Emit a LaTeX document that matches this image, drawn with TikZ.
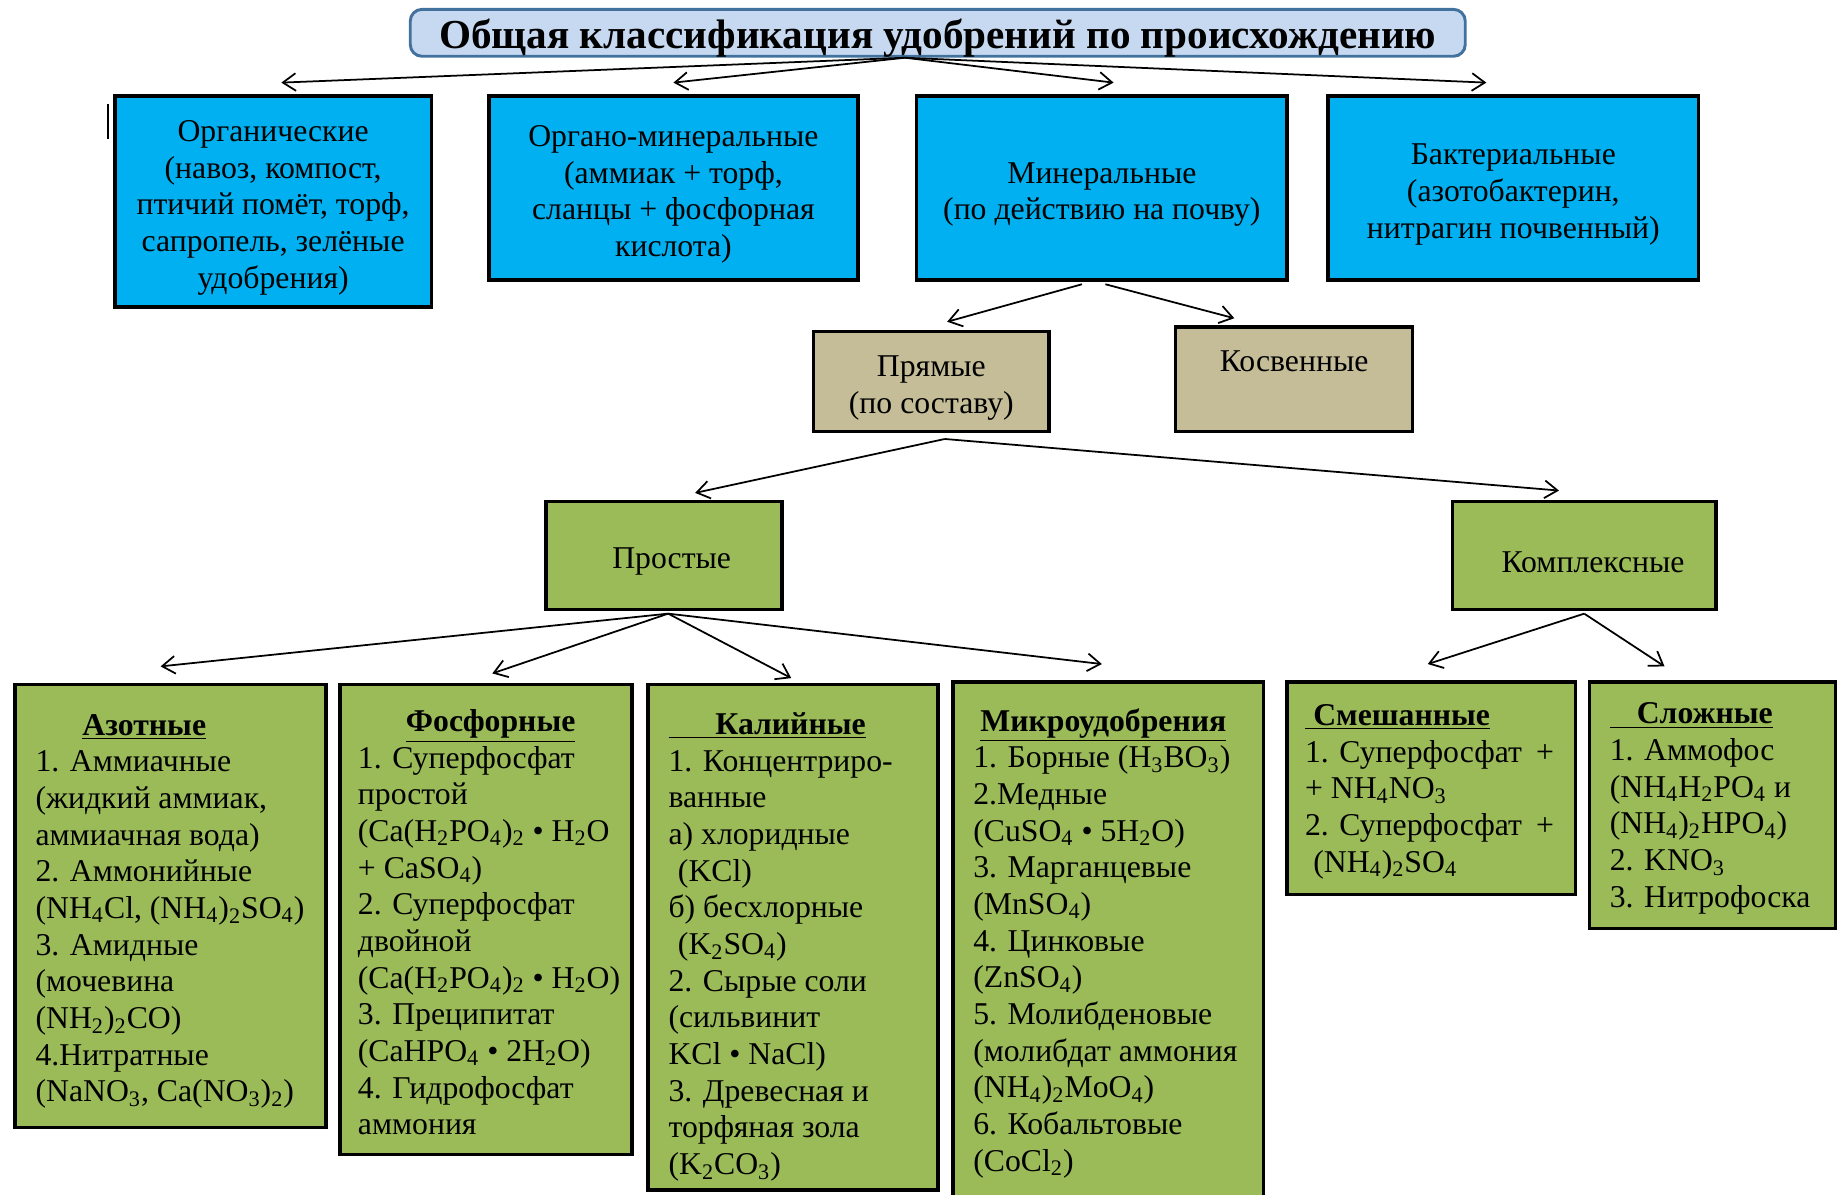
\documentclass[tikz,border=0pt]{standalone}
\usepackage{fontspec}
\setmainfont{Liberation Serif}
\usetikzlibrary{arrows.meta}
\definecolor{cyanbox}{RGB}{0,176,240}
\definecolor{tanbox}{RGB}{196,189,151}
\definecolor{greenbox}{RGB}{155,187,89}
\definecolor{titlefill}{RGB}{198,217,241}
\definecolor{titleline}{RGB}{65,113,156}
\newcommand{\bodyfont}{\fontsize{15.4}{17.8}\selectfont}
\newcommand{\sbs}[1]{\textsubscript{#1}}
\newcommand{\hdr}[2]{\hspace*{#1}\underline{\textbf{#2}}}
\newcommand{\hdru}[2]{\underline{\hspace*{#1}\textbf{#2}}}
\newcommand{\tp}{\rule{0pt}{5.7mm}}

\begin{document}
\begin{tikzpicture}[x=0.2mm, y=-0.2mm,
    box/.style={draw=black, line width=0.6mm, inner sep=0pt, align=center, font=\bodyfont},
    bluebox/.style={box, fill=cyanbox},
    tanbx/.style={box, fill=tanbox},
    greenbx/.style={box, fill=greenbox},
    ltext/.style={anchor=base west, align=left, inner sep=0pt, font=\bodyfont},
    arr/.style={-{Straight Barb[length=2.2mm,width=3mm]}, line width=0.3mm}]
    \useasboundingbox (0,0) rectangle (1568,1019);

    % title
    \node[draw=titleline, fill=titlefill, line width=0.5mm, rounded corners=2mm,
          minimum width=180mm, minimum height=8mm, inner sep=0pt,
          text height=5.5mm, text depth=0mm,
          font=\fontsize{20}{24}\selectfont\bfseries] (tit) at (800,28)
          {Общая классификация удобрений по происхождению};

    % first level
    \node[bluebox, minimum width=54mm, minimum height=36mm] (org) at (233,172)
          {\tp Органические\\(навоз, компост,\\птичий помёт, торф,\\сапропель, зелёные\\удобрения)};
    \node[bluebox, minimum width=63mm, minimum height=31.4mm] (orm) at (574.5,160.5)
          {\tp Органо-минеральные\\(аммиак + торф,\\сланцы + фосфорная\\кислота)};
    \node[bluebox, minimum width=63.2mm, minimum height=31.4mm] (min) at (940,160.5)
          {\tp Минеральные\\(по действию на почву)};
    \node[bluebox, minimum width=63.2mm, minimum height=31.4mm] (bac) at (1291,160.5)
          {\tp Бактериальные\\(азотобактерин,\\нитрагин почвенный)};
    \draw[line width=0.25mm] (92,89) -- (92,119);

    % by action
    \node[tanbx, minimum width=40.2mm, minimum height=17mm] (pr) at (794.5,325.5)
          {\tp Прямые\\(по составу)};
    \node[tanbx, minimum width=40.4mm, minimum height=17.8mm] (kos) at (1104,323.5)
          {Косвенные\\\mbox{}};

    % by composition
    \node[greenbx, minimum width=40.2mm, minimum height=18.4mm] (prost) at (566.5,474) {\tp\hspace*{2.6mm}Простые};
    \node[greenbx, minimum width=45mm, minimum height=18.4mm] (kompl) at (1351.5,474) {\tp\hspace*{3mm}Комплексные};

    % lists
    \node[greenbx, minimum width=53mm, minimum height=75.6mm] (az) at (145.5,773) {};
    \node[greenbx, minimum width=49.8mm, minimum height=80.2mm] (fos) at (414.5,784.5) {};
    \node[greenbx, minimum width=49.4mm, minimum height=86.2mm] (kal) at (676.5,799.5) {};
    \node[greenbx, minimum width=53mm, minimum height=88.4mm] (mik) at (945.5,803) {};
    \node[greenbx, minimum width=49.2mm, minimum height=36.2mm] (sme) at (1221,672.5) {};
    \node[greenbx, minimum width=42mm, minimum height=42mm] (slo) at (1461,687) {};

    \node[ltext] (azT) at (30,940) {\hdr{8mm}{Азотные}\\
        1. Аммиачные\\
        (жидкий аммиак,\\
        аммиачная вода)\\
        2. Аммонийные\\
        (NH\sbs4Cl, (NH\sbs4)\sbs2SO\sbs4)\\
        3. Амидные\\
        (мочевина\\
        (NH\sbs2)\sbs2CO)\\
        4.Нитратные\\
        (NaNO\sbs3, Ca(NO\sbs3)\sbs2)};
    \node[ltext] (fosT) at (305,968) {\hdr{8.2mm}{Фосфорные}\\
        1. Суперфосфат\\
        простой\\
        (Ca(H\sbs2PO\sbs4)\sbs2 • H\sbs2O\\
        + CaSO\sbs4)\\
        2. Суперфосфат\\
        двойной\\
        (Ca(H\sbs2PO\sbs4)\sbs2 • H\sbs2O)\\
        3. Преципитат\\
        (CaHPO\sbs4 • 2H\sbs2O)\\
        4. Гидрофосфат\\
        аммония};
    \node[ltext] (kalT) at (570,1002) {\hdru{8mm}{Калийные}\\
        1. Концентриро-\\
        ванные\\
        а) хлоридные\\
        \hspace*{1.6mm}(KCl)\\
        б) бесхлорные\\
        \hspace*{1.6mm}(K\sbs2SO\sbs4)\\
        2. Сырые соли\\
        (сильвинит\\
        KCl • NaCl)\\
        3. Древесная и\\
        торфяная зола\\
        (K\sbs2CO\sbs3)};
    \node[ltext] (mikT) at (830,999) {\hdr{1.2mm}{Микроудобрения}\\
        1. Борные (H\sbs3BO\sbs3)\\
        2.Медные\\
        (CuSO\sbs4 • 5H\sbs2O)\\
        3. Марганцевые\\
        (MnSO\sbs4)\\
        4. Цинковые\\
        (ZnSO\sbs4)\\
        5. Молибденовые\\
        (молибдат аммония\\
        (NH\sbs4)\sbs2MoO\sbs4)\\
        6. Кобальтовые\\
        (CoCl\sbs2)};
    \node[ltext] (smeT) at (1113,744) {\hdru{1.4mm}{Смешанные}\\
        1. Суперфосфат\hspace{2.4mm}+\\
        + NH\sbs4NO\sbs3\\
        2. Суперфосфат\hspace{2.4mm}+\\
        \hspace*{1.4mm}(NH\sbs4)\sbs2SO\sbs4};
    \node[ltext] (sloT) at (1373,774) {\hdru{4.6mm}{Сложные}\\
        1. Аммофос\\
        (NH\sbs4H\sbs2PO\sbs4 и\\
        (NH\sbs4)\sbs2HPO\sbs4)\\
        2. KNO\sbs3\\
        3. Нитрофоска};

    % arrows
    \draw[arr] ([xshift=-5.6mm]tit.south) -- ([xshift=1.4mm,yshift=2mm]org.north);
    \draw[arr] ([xshift=-5.6mm]tit.south) -- ([yshift=2mm]orm.north);
    \draw[arr] ([xshift=-5.6mm]tit.south) -- ([xshift=2mm,yshift=2mm]min.north);
    \draw[arr] ([xshift=-5.6mm]tit.south) -- ([xshift=-4.6mm,yshift=2mm]bac.north);
    \draw[arr] ([xshift=-3.4mm,yshift=-0.4mm]min.south) -- ([xshift=2.7mm,yshift=1.4mm]pr.north);
    \draw[arr] ([xshift=0.6mm,yshift=-0.4mm]min.south) -- ([xshift=-10.2mm,yshift=1.2mm]kos.north);
    \draw[arr] ([xshift=2.3mm,yshift=-1mm]pr.south) -- ([xshift=5.3mm,yshift=1.2mm]prost.north);
    \draw[arr] ([xshift=2.3mm,yshift=-1mm]pr.south) -- ([xshift=-4.3mm,yshift=1.6mm]kompl.north);
    \draw[arr] ([xshift=0.7mm,yshift=-0.4mm]prost.south) -- ([xshift=-1.7mm,yshift=2.8mm]az.north);
    \draw[arr] ([xshift=0.7mm,yshift=-0.4mm]prost.south) -- ([xshift=1.1mm,yshift=1.6mm]fos.north);
    \draw[arr] ([xshift=0.7mm,yshift=-0.4mm]prost.south) -- ([xshift=-0.3mm,yshift=0.8mm]kal.north);
    \draw[arr] ([xshift=0.7mm,yshift=-0.4mm]prost.south) -- ([xshift=-1.1mm,yshift=2.8mm]mik.north);
    \draw[arr] ([yshift=-0.4mm]kompl.south) -- ([xshift=-0.6mm,yshift=2.8mm]sme.north);
    \draw[arr] ([yshift=-0.4mm]kompl.south) -- ([xshift=-8.2mm,yshift=2.4mm]slo.north);
\end{tikzpicture}
\end{document}
